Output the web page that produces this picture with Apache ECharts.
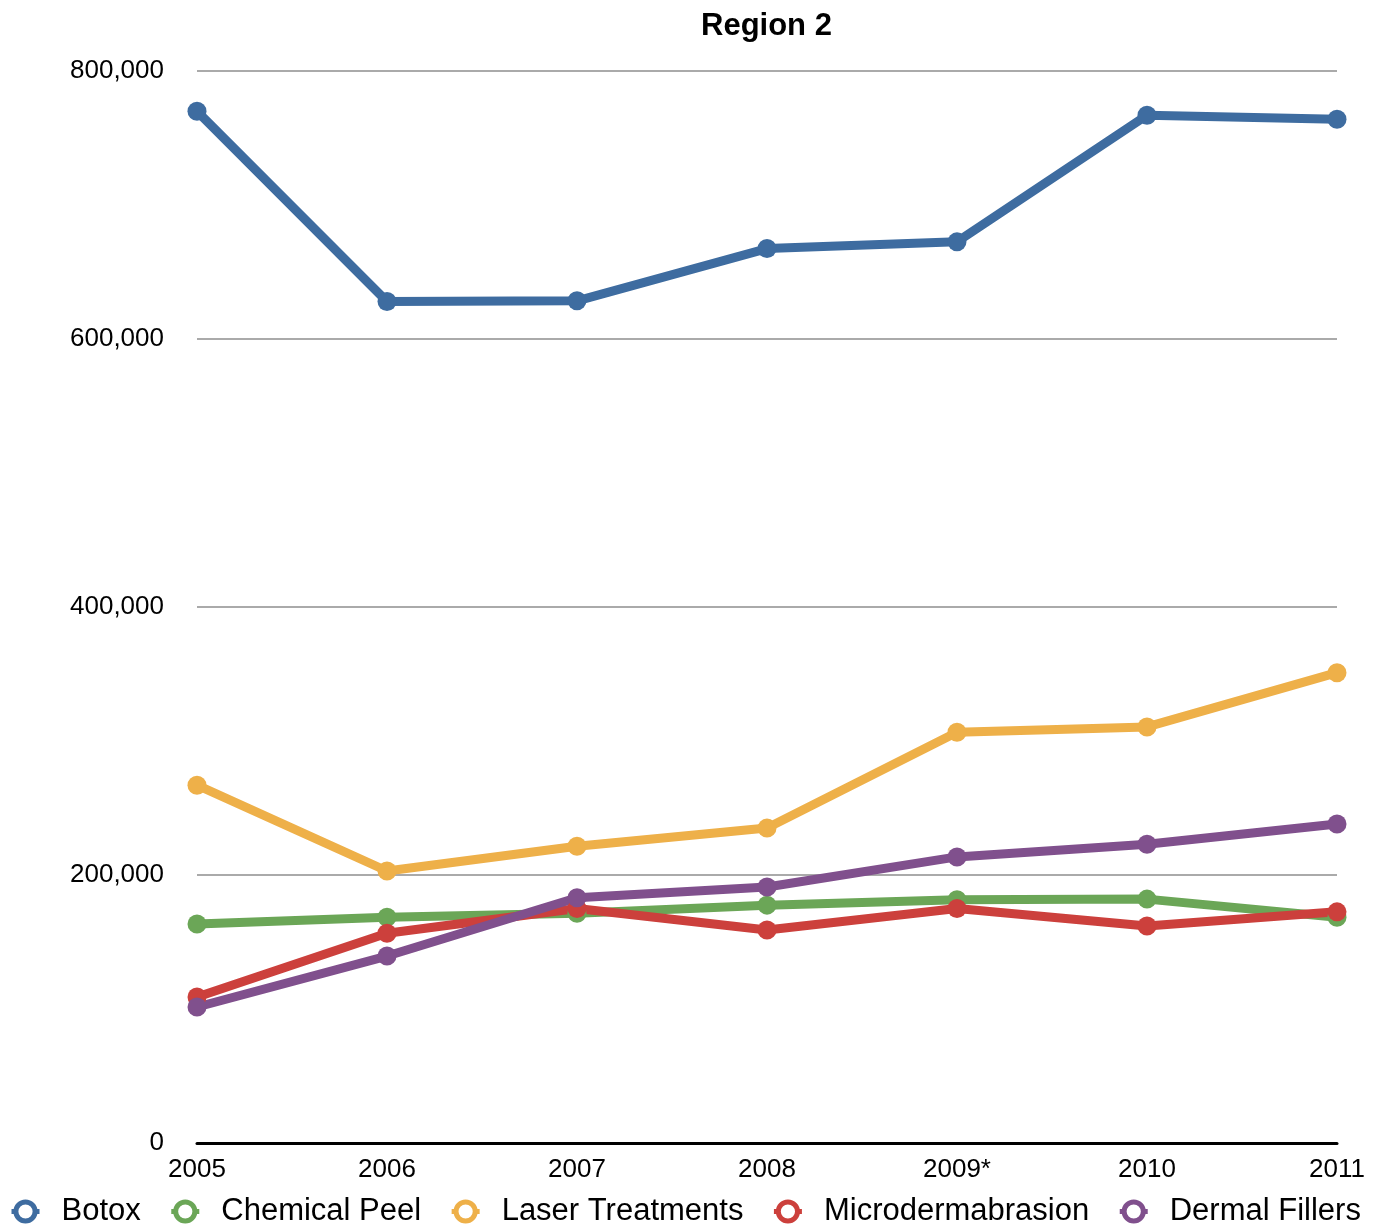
<!DOCTYPE html>
<html>
<head>
<meta charset="utf-8">
<script src="https://cdn.jsdelivr.net/npm/echarts@6/dist/echarts.min.js"></script>
<style>
  html, body { margin: 0; padding: 0; background: #fff; }
  #chart { width: 1379px; height: 1224px; }
</style>
</head>
<body>
<div id="chart"></div>
<script>
var years = ['2005', '2006', '2007', '2008', '2009*', '2010', '2011'];
var seriesNames = ['Botox', 'Chemical Peel', 'Laser Treatments', 'Microdermabrasion', 'Dermal Fillers'];
var botox = [770000, 628000, 628500, 667500, 672500, 767000, 764000];
var chemicalPeel = [163500, 168500, 171500, 177500, 181500, 182000, 168500];
var laserTreatments = [267000, 203000, 221500, 235000, 306500, 310500, 351000];
var microdermabrasion = [109000, 156500, 175000, 159000, 175000, 162000, 172500];
var dermalFillers = [101500, 139500, 183000, 191000, 213500, 223000, 238000];
var colors = ['#3e6ca0', '#6ba657', '#eeb049', '#cc403c', '#80508d'];

var chartDom = document.getElementById('chart');
var myChart = echarts.init(chartDom);

var allData = [botox, chemicalPeel, laserTreatments, microdermabrasion, dermalFillers];

var series = allData.map(function (d, i) {
  return {
    name: seriesNames[i],
    type: 'line',
    data: d,
    symbol: 'circle',
    symbolSize: 19,
    lineStyle: { width: 9, color: colors[i] },
    itemStyle: { color: colors[i] },
    emphasis: { disabled: true }
  };
});

var option = {
  animation: false,
  textStyle: { fontFamily: 'Liberation Sans, Arial, sans-serif' },
  title: {
    text: 'Region 2',
    left: 696,
    top: 6,
    textStyle: { fontSize: 31, fontWeight: 'bold', color: '#000' }
  },
  legend: {
    top: 1196,
    left: 9,
    padding: 0,
    width: 1370,
    itemWidth: 28,
    itemHeight: 24,
    itemGap: 28,
    lineStyle: { width: 5 },
    textStyle: { fontSize: 31, color: '#000', padding: [0, 0, 0, 17] },
    data: seriesNames.map(function (n, i) {
      return { name: n, itemStyle: { color: '#fff', borderColor: colors[i], borderWidth: 5 } };
    })
  },
  grid: { left: 197, right: 42, top: 71, bottom: 81 },
  xAxis: {
    type: 'category',
    data: years,
    boundaryGap: false,
    axisLine: { lineStyle: { color: '#000', width: 3 } },
    axisTick: { show: false },
    axisLabel: { fontSize: 26, color: '#000', margin: 14 }
  },
  yAxis: {
    type: 'value',
    min: 0,
    max: 800000,
    interval: 200000,
    axisLine: { show: false },
    axisTick: { show: false },
    axisLabel: {
      fontSize: 26, color: '#000', margin: 33,
      formatter: function (v) { return v.toLocaleString('en-US'); }
    },
    splitLine: { lineStyle: { color: '#aaaaaa', width: 2 } }
  },
  series: series
};

myChart.setOption(option);
</script>
</body>
</html>
